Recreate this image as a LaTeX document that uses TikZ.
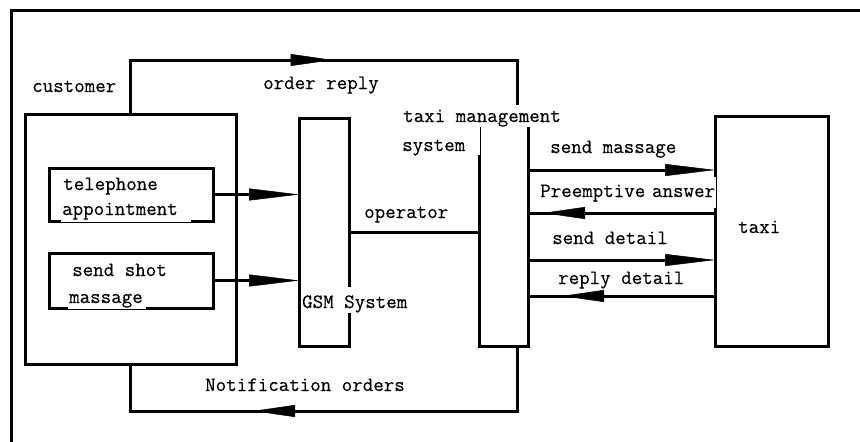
\documentclass[tikz,border=0pt]{standalone}
\usepackage{fontspec}
\newfontfamily\diagfont[FakeBold=0.3]{Latin Modern Mono}
\usetikzlibrary{arrows.meta,decorations.markings}

\begin{document}
\begin{tikzpicture}[x=1pt,y=-1pt,
  box/.style={draw,line width=3pt,inner sep=0pt,outer sep=0pt,anchor=north west},
  wire/.style={line width=3pt},
  lbl/.style={font=\diagfont\fontsize{20.4}{24}\selectfont,inner sep=0pt,anchor=base west},
  blank/.style={fill=white,inner xsep=1pt},
  headtip/.style={-{Triangle[length=50pt,width=12pt,line width=0.5pt]}},
  midtip/.style={postaction={decorate},decoration={markings,
    mark=at position #1 with {\arrow{Triangle[length=42pt,width=12pt,line width=0.5pt]}}}}
]
\useasboundingbox (0,0) rectangle (860,442);
\clip (0,0) rectangle (860,442);

% outer frame, running past the page on the right and below
\node[box,minimum width=900pt,minimum height=500pt] (frame) at (11,10) {};

% boxes
\node[box,minimum width=211pt,minimum height=250pt] (cust) at (25,114) {};
\node[box,minimum width=164pt,minimum height=53pt] (tel) at (49,168) {};
\node[box,minimum width=164pt,minimum height=55pt] (sms) at (49,253) {};
\node[box,minimum width=50pt,minimum height=228pt] (gsm) at (299,118) {};
\node[box,minimum width=49pt,minimum height=228pt] (tms) at (479,118) {};
\node[box,minimum width=113pt,minimum height=230pt] (taxi) at (715,116) {};

% labels
\node[lbl] (lcust) at (32,92) {customer};
\node[lbl] (lorder) at (263,89) {order reply};
\node[lbl] (ltel) at (63,190) {telephone};
\node[lbl,blank,text width=128pt,text height=12pt,text depth=6.5pt] (lapp) at (61,215) {appointment};
\node[lbl] (lsend) at (72,276) {send shot};
\node[lbl,blank,text width=76pt,text height=12pt,text depth=5.5pt] (lmass) at (68,303) {massage};
\node[lbl,blank,text height=21pt,text depth=5pt] (lgsm) at (301,308) {GSM System};
\node[lbl] (lop) at (364,218) {operator};
\node[lbl,blank,inner xsep=2pt,text height=17pt,text depth=5pt] (ltms) at (401,122) {taxi management};
\node[lbl,blank,text width=76.5pt,text height=24pt,text depth=4pt] (lsys) at (401,151) {system};
\node[lbl] (lsm) at (550,153) {send massage};
\node[lbl,blank,text width=175pt,text height=20pt,text depth=11pt] (lpre) at (539,197) {Preemptive answer};
\node[lbl] (lsd) at (552,244) {send detail};
\node[lbl] (lrd) at (558,284) {reply detail};
\node[lbl] (ltaxi) at (738,233) {taxi};
\node[lbl] (lnot) at (205,391) {Notification orders};

% routing levels
\coordinate (upper) at (0,60);
\coordinate (lower) at (0,411);
\coordinate (rt) at (517,0);
\coordinate (lv1) at (0,170);
\coordinate (lv2) at (0,213);
\coordinate (lv3) at (0,260);
\coordinate (lv4) at (0,296);

% connectors
\draw[wire,midtip=256pt] (cust.north) |- (rt |- upper) -- (rt |- ltms.north);
\draw[wire,midtip=329pt] (rt |- tms.south) -- (rt |- lower) -| (cust.south);
\draw[wire,headtip] (tel.east) -- (tel.east -| gsm.west);
\draw[wire,headtip] (sms.east) -- (sms.east -| gsm.west);
\draw[wire] (gsm.east) -- (gsm.east -| tms.west);
\draw[wire,headtip] (tms.east |- lv1) -- (taxi.west |- lv1);
\draw[wire,midtip=172pt] (taxi.west |- lv2) -- (tms.east |- lv2);
\draw[wire,headtip] (tms.east |- lv3) -- (taxi.west |- lv3);
\draw[wire,midtip=153pt] (taxi.west |- lv4) -- (tms.east |- lv4);
\end{tikzpicture}
\end{document}
